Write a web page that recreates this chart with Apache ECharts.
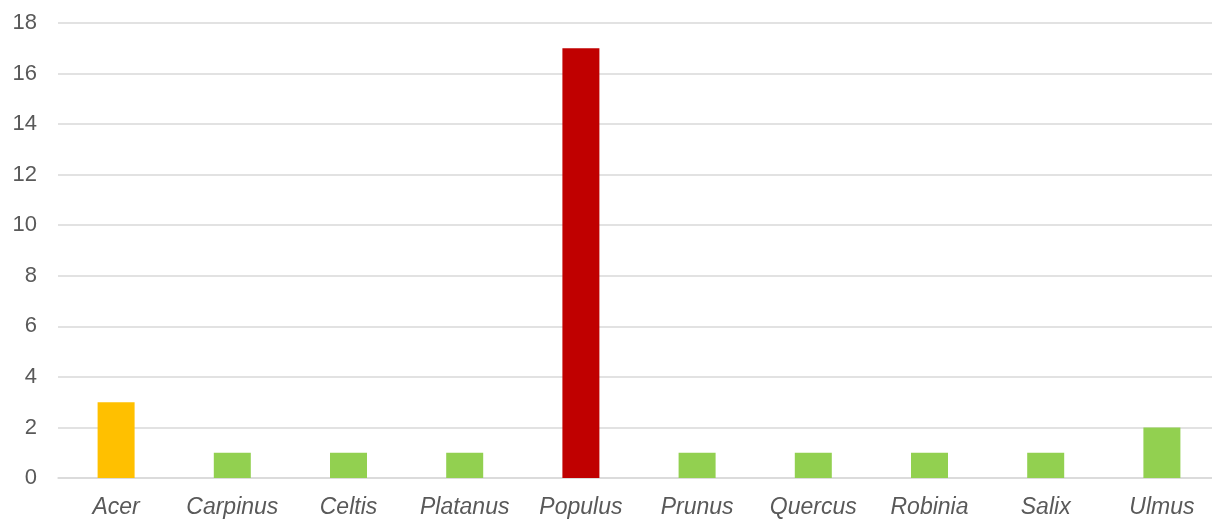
<!DOCTYPE html>
<html>
<head>
<meta charset="utf-8">
<script src="https://cdn.jsdelivr.net/npm/echarts@6/dist/echarts.min.js"></script>
<style>
  html, body { margin: 0; padding: 0; background: #fff; overflow: hidden; }
  #chart { width: 1220px; height: 519px; }
</style>
</head>
<body>
<div id="chart"></div>
<script>
const genera = ["Acer", "Carpinus", "Celtis", "Platanus", "Populus", "Prunus", "Quercus", "Robinia", "Salix", "Ulmus"];
const counts = [3, 1, 1, 1, 17, 1, 1, 1, 1, 2];
const barColors = ["#FFC000", "#92D050", "#92D050", "#92D050", "#C00000", "#92D050", "#92D050", "#92D050", "#92D050", "#92D050"];

// chart is slightly wider than the window: the last category runs past the right edge
const chart = echarts.init(document.getElementById("chart"));
chart.setOption({
  animation: false,
  textStyle: { fontFamily: "Liberation Sans" },
  grid: { left: 58, right: 0, top: 23, bottom: 41 },
  xAxis: {
    type: "category",
    data: genera,
    axisLine: { show: true, lineStyle: { color: "#d9d9d9", width: 1.5 } },
    axisTick: { show: false },
    axisLabel: {
      interval: 0,
      color: "#595959",
      fontSize: 23,
      fontStyle: "italic",
      margin: 18,
    },
  },
  yAxis: {
    type: "value",
    min: 0,
    max: 18,
    interval: 2,
    axisLine: { show: false },
    axisTick: { show: false },
    splitLine: { lineStyle: { color: "#d9d9d9", width: 1.5 } },
    axisLabel: { color: "#595959", fontSize: 22, margin: 21 },
  },
  series: [
    {
      type: "bar",
      barWidth: 37,
      data: counts.map((v, i) => ({ value: v, itemStyle: { color: barColors[i] } })),
    },
  ],
});
</script>
</body>
</html>
